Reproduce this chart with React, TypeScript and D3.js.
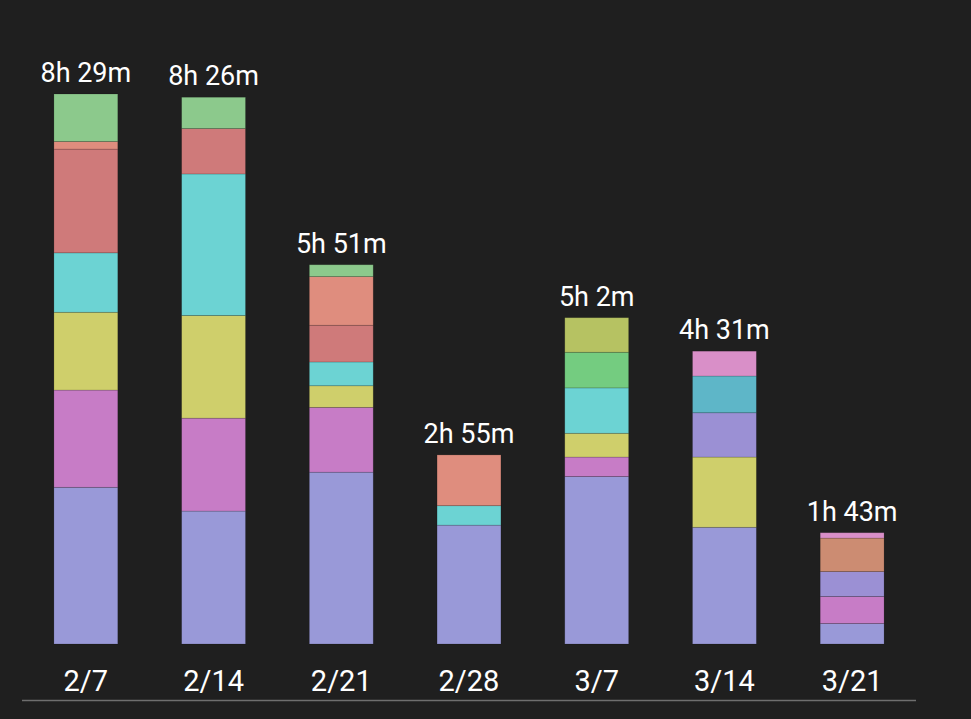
import * as d3 from 'd3';
import React from 'react';

// week labels along the bottom
const weeks = ['2/7', '2/14', '2/21', '2/28', '3/7', '3/14', '3/21'];

// minutes per category, bottom to top, one list per week
const week1 = [['purple', 145], ['pink', 90], ['yellow', 72], ['cyan', 55], ['red', 96], ['salmon', 7], ['green', 44]];
const week2 = [['purple', 123], ['pink', 86], ['yellow', 95], ['cyan', 131], ['red', 42], ['green', 29]];
const week3 = [['purple', 159], ['pink', 60], ['yellow', 20], ['cyan', 22], ['red', 34], ['salmon', 45], ['green', 11]];
const week4 = [['purple', 110], ['cyan', 18], ['salmon', 47]];
const week5 = [['purple', 155], ['pink', 18], ['yellow', 22], ['cyan', 42], ['lime', 33], ['olive', 32]];
const week6 = [['purple', 108], ['yellow', 65], ['lavender', 41], ['teal', 34], ['rose', 23]];
const week7 = [['purple', 19], ['pink', 25], ['lavender', 23], ['brown', 31], ['rose', 5]];

const segments = [week1, week2, week3, week4, week5, week6, week7];

const colors = {
  purple: '#9999d8',
  lavender: '#9b90d4',
  pink: '#c77cc6',
  yellow: '#cfcf6b',
  cyan: '#6cd3d3',
  red: '#cf7a7a',
  salmon: '#df8d7e',
  green: '#8cc98c',
  lime: '#74cc80',
  olive: '#b6c262',
  teal: '#5eb6c8',
  rose: '#d98fc8',
  brown: '#cc8c72',
};

const fmt = (m) => `${Math.floor(m / 60)}h ${m % 60}m`;

export default function App() {
  const width = 971;
  const height = 719;

  const totals = segments.map((s) => d3.sum(s, (d) => d[1]));

  const x = d3
    .scaleBand()
    .domain(weeks)
    .range([22, 916])
    .paddingInner(0.5)
    .paddingOuter(0.25);

  const y = d3
    .scaleLinear()
    .domain([0, d3.max(totals)])
    .range([644, 94]);

  return (
    <svg
      width={width}
      height={height}
      style={{ position: 'absolute', left: 0, top: 0, background: '#1f1f1f' }}
      fontFamily="Roboto, sans-serif"
    >
      <rect width={width} height={height} fill="#1f1f1f" />
      {weeks.map((w, i) => {
        let acc = 0;
        const parts = segments[i].map(([cat, v]) => {
          const y0 = acc;
          acc += v;
          return { cat, y0, y1: acc };
        });
        const bx = x(w);
        return (
          <g key={w}>
            {parts.map((p, j) => (
              <rect
                key={j}
                x={bx}
                y={y(p.y1)}
                width={x.bandwidth()}
                height={y(p.y0) - y(p.y1)}
                fill={colors[p.cat]}
                stroke="rgba(0,0,0,0.18)"
                strokeWidth={0.8}
              />
            ))}
            <text
              x={bx + x.bandwidth() / 2}
              y={y(totals[i]) - 12}
              textAnchor="middle"
              fill="#ffffff"
              fontSize={27}
            >
              {fmt(totals[i])}
            </text>
            <text
              x={bx + x.bandwidth() / 2}
              y={691}
              textAnchor="middle"
              fill="#ffffff"
              fontSize={29}
            >
              {w}
            </text>
          </g>
        );
      })}
      <line x1={22} x2={916} y1={700.5} y2={700.5} stroke="#6e6e6e" strokeWidth={1.5} />
    </svg>
  );
}
